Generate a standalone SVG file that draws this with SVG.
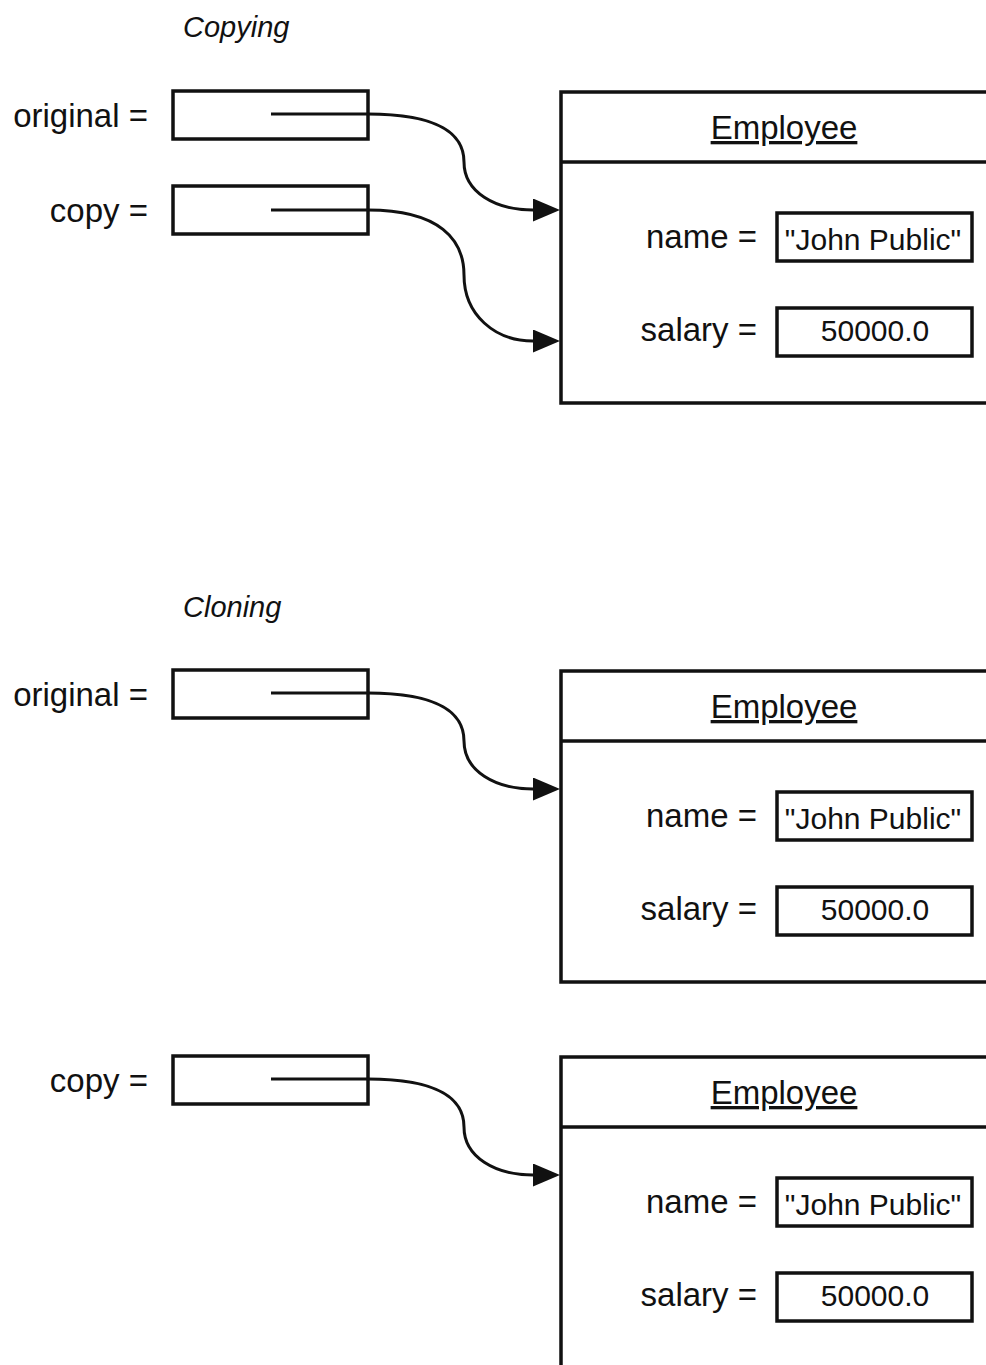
<svg xmlns="http://www.w3.org/2000/svg" width="986" height="1365" viewBox="0 0 986 1365">
<style>
text{font-family:"Liberation Sans",Arial,sans-serif;fill:#111}
.title{font-size:29px;font-style:italic}
.lbl{font-size:33px;text-anchor:end}
.val{font-size:30px;text-anchor:middle}
.cls{font-size:33px;text-anchor:middle;text-decoration:underline}
.box{fill:#fff;stroke:#111;stroke-width:3.5}
.ln{fill:none;stroke:#111;stroke-width:3.5}
.conn{fill:none;stroke:#111;stroke-width:3}
</style>
<defs>
<marker id="ah" markerUnits="userSpaceOnUse" markerWidth="28" markerHeight="24" refX="0" refY="11.5" orient="auto">
<path d="M0,0 L27,11.5 L0,23 Z" fill="#111"/>
</marker>
</defs>
<rect width="986" height="1365" fill="#fff"/>
<text class="title" x="183" y="37">Copying</text>
<text class="title" x="183" y="617">Cloning</text>

<g id="emp1">
<rect class="box" x="561" y="92" width="440" height="311"/>
<line class="ln" x1="561" y1="162" x2="1001" y2="162"/>
<text class="cls" x="784" y="139">Employee</text>
<text class="lbl" x="757" y="248">name =</text>
<rect class="box" x="777" y="213" width="195" height="48"/>
<text class="val" x="873" y="250">"John Public"</text>
<text class="lbl" x="757" y="341">salary =</text>
<rect class="box" x="777" y="308" width="195" height="48"/>
<text class="val" x="875" y="341">50000.0</text>
</g>

<g id="emp2" transform="translate(0,579)">
<rect class="box" x="561" y="92" width="440" height="311"/>
<line class="ln" x1="561" y1="162" x2="1001" y2="162"/>
<text class="cls" x="784" y="139">Employee</text>
<text class="lbl" x="757" y="248">name =</text>
<rect class="box" x="777" y="213" width="195" height="48"/>
<text class="val" x="873" y="250">"John Public"</text>
<text class="lbl" x="757" y="341">salary =</text>
<rect class="box" x="777" y="308" width="195" height="48"/>
<text class="val" x="875" y="341">50000.0</text>
</g>

<g id="emp3" transform="translate(0,965)">
<rect class="box" x="561" y="92" width="440" height="400"/>
<line class="ln" x1="561" y1="162" x2="1001" y2="162"/>
<text class="cls" x="784" y="139">Employee</text>
<text class="lbl" x="757" y="248">name =</text>
<rect class="box" x="777" y="213" width="195" height="48"/>
<text class="val" x="873" y="250">"John Public"</text>
<text class="lbl" x="757" y="341">salary =</text>
<rect class="box" x="777" y="308" width="195" height="48"/>
<text class="val" x="875" y="341">50000.0</text>
</g>

<g id="var-original-1">
<text class="lbl" x="148" y="127">original =</text>
<rect class="box" x="173" y="91" width="195" height="48"/>
</g>
<g id="var-copy-1">
<text class="lbl" x="148" y="222">copy =</text>
<rect class="box" x="173" y="186" width="195" height="48"/>
</g>
<g id="var-original-2">
<text class="lbl" x="148" y="706">original =</text>
<rect class="box" x="173" y="670" width="195" height="48"/>
</g>
<g id="var-copy-2">
<text class="lbl" x="148" y="1092">copy =</text>
<rect class="box" x="173" y="1056" width="195" height="48"/>
</g>

<g id="connectors">
<path class="conn" marker-end="url(#ah)" d="M271,114 H368 C440,114 464,135 464,162 C464,192 495,210 533,210"/>
<path class="conn" marker-end="url(#ah)" d="M271,210 H368 C440,210 464,240 464,275 C464,315 495,341 533,341"/>
<path class="conn" marker-end="url(#ah)" d="M271,693 H368 C440,693 464,714 464,741 C464,771 495,789 533,789"/>
<path class="conn" marker-end="url(#ah)" d="M271,1079 H368 C440,1079 464,1100 464,1127 C464,1157 495,1175 533,1175"/>
</g>
</svg>
